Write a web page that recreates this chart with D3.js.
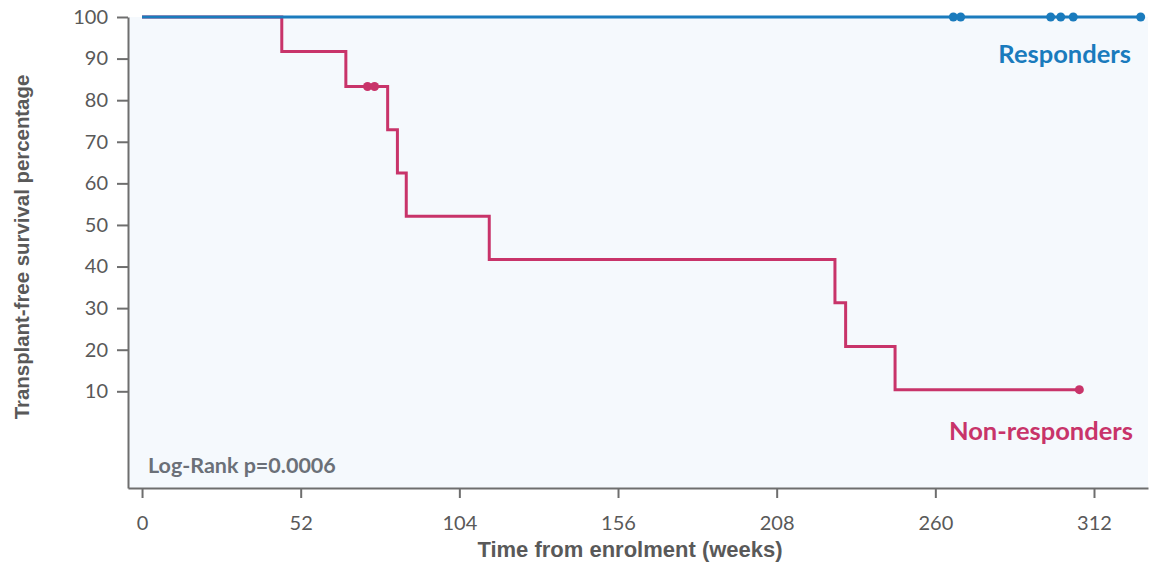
<!DOCTYPE html>
<html>
<head>
<meta charset="utf-8">
<script src="https://cdnjs.cloudflare.com/ajax/libs/d3/7.8.5/d3.min.js"></script>
<style>
  body { margin: 0; background: #fff; }
  svg { display: block; }
</style>
</head>
<body>
<svg id="chart"></svg>
<script>
// Kaplan-Meier data (weeks, survival %)
const respTimes = [0, 327.3];
const respSurv = [100, 100];
const respCensor = [265.9, 268.3, 297.8, 301.1, 305.2, 327.3];

const nonTimes = [0, 45.8, 66.8, 80.5, 83.7, 86.6, 113.8, 227.1, 230.6, 246.8, 307.2];
const nonSurv = [100, 91.7, 83.3, 72.9, 62.5, 52.1, 41.7, 31.3, 20.8, 10.4, 10.4];
const nonCensorTimes = [73.9, 76.2, 307.2];
const nonCensorSurv = [83.3, 83.3, 10.4];

const xTicks = [0, 52, 104, 156, 208, 260, 312];
const yTicks = [10, 20, 30, 40, 50, 60, 70, 80, 90, 100];

const width = 1150, height = 562;
const blue = "#1a7bbd", red = "#c8346a", axisGrey = "#6e6e6e", textGrey = "#595959";

const svg = d3.select("#chart").attr("width", width).attr("height", height);

// scales (plot box spans x 128-1148, y 17-488)
const x = d3.scaleLinear().domain([-4.6, 329.7]).range([128, 1148]);
const y = d3.scaleLinear().domain([-13.25, 100]).range([488, 17]);

// plot background
svg.append("rect")
    .attr("x", x.range()[0]).attr("y", y.range()[1])
    .attr("width", x.range()[1] - x.range()[0])
    .attr("height", y.range()[0] - y.range()[1])
    .attr("fill", "#f5f9fd");

// axes
const yAxis = svg.append("g")
    .attr("transform", `translate(${x.range()[0]},0)`)
    .call(d3.axisLeft(y).tickValues(yTicks).tickSize(11).tickSizeOuter(0).tickPadding(9));
const xAxis = svg.append("g")
    .attr("transform", `translate(0,${y.range()[0]})`)
    .call(d3.axisBottom(x).tickValues(xTicks).tickSize(10).tickSizeOuter(0).tickPadding(18));

[yAxis, xAxis].forEach(g => {
    g.select(".domain").attr("stroke", axisGrey).attr("stroke-width", 2);
    g.selectAll(".tick line").attr("stroke", axisGrey).attr("stroke-width", 2);
    g.selectAll(".tick text")
        .attr("fill", textGrey)
        .style("font-family", "Lato, 'Open Sans', sans-serif")
        .style("font-size", "20px");
});

// survival curves
const step = d3.line().x(d => x(d[0])).y(d => y(d[1])).curve(d3.curveStepAfter);

svg.append("path")
    .datum(d3.zip(nonTimes, nonSurv))
    .attr("d", step)
    .attr("fill", "none").attr("stroke", red).attr("stroke-width", 3);

svg.selectAll(".nonCensor")
    .data(d3.zip(nonCensorTimes, nonCensorSurv))
    .enter().append("circle")
    .attr("cx", d => x(d[0])).attr("cy", d => y(d[1]))
    .attr("r", 4.5).attr("fill", red);

svg.append("path")
    .datum(d3.zip(respTimes, respSurv))
    .attr("d", step)
    .attr("fill", "none").attr("stroke", blue).attr("stroke-width", 3);

svg.selectAll(".respCensor")
    .data(respCensor)
    .enter().append("circle")
    .attr("cx", d => x(d)).attr("cy", y(100))
    .attr("r", 4.5).attr("fill", blue);

// labels
svg.append("text")
    .attr("x", 1131).attr("y", 63).attr("text-anchor", "end")
    .attr("fill", blue)
    .style("font-family", "Lato, sans-serif").style("font-weight", "bold").style("font-size", "25.5px")
    .text("Responders");

svg.append("text")
    .attr("x", 1133).attr("y", 439.5).attr("text-anchor", "end")
    .attr("fill", red)
    .style("font-family", "Lato, sans-serif").style("font-weight", "bold").style("font-size", "25.5px")
    .text("Non-responders");

svg.append("text")
    .attr("x", 148).attr("y", 473)
    .attr("fill", "#6b7078")
    .style("font-family", "Lato, sans-serif").style("font-weight", "bold").style("font-size", "21.5px")
    .text("Log-Rank p=0.0006");

svg.append("text")
    .attr("x", 630).attr("y", 556.5).attr("text-anchor", "middle")
    .attr("fill", textGrey)
    .style("font-family", "'Liberation Sans', Arial, sans-serif").style("font-weight", "bold").style("font-size", "22px")
    .text("Time from enrolment (weeks)");

svg.append("text")
    .attr("transform", "translate(29,247) rotate(-90)")
    .attr("text-anchor", "middle")
    .attr("fill", textGrey)
    .style("font-family", "'Liberation Sans', Arial, sans-serif").style("font-weight", "bold").style("font-size", "20.4px")
    .text("Transplant-free survival percentage");
</script>
</body>
</html>
